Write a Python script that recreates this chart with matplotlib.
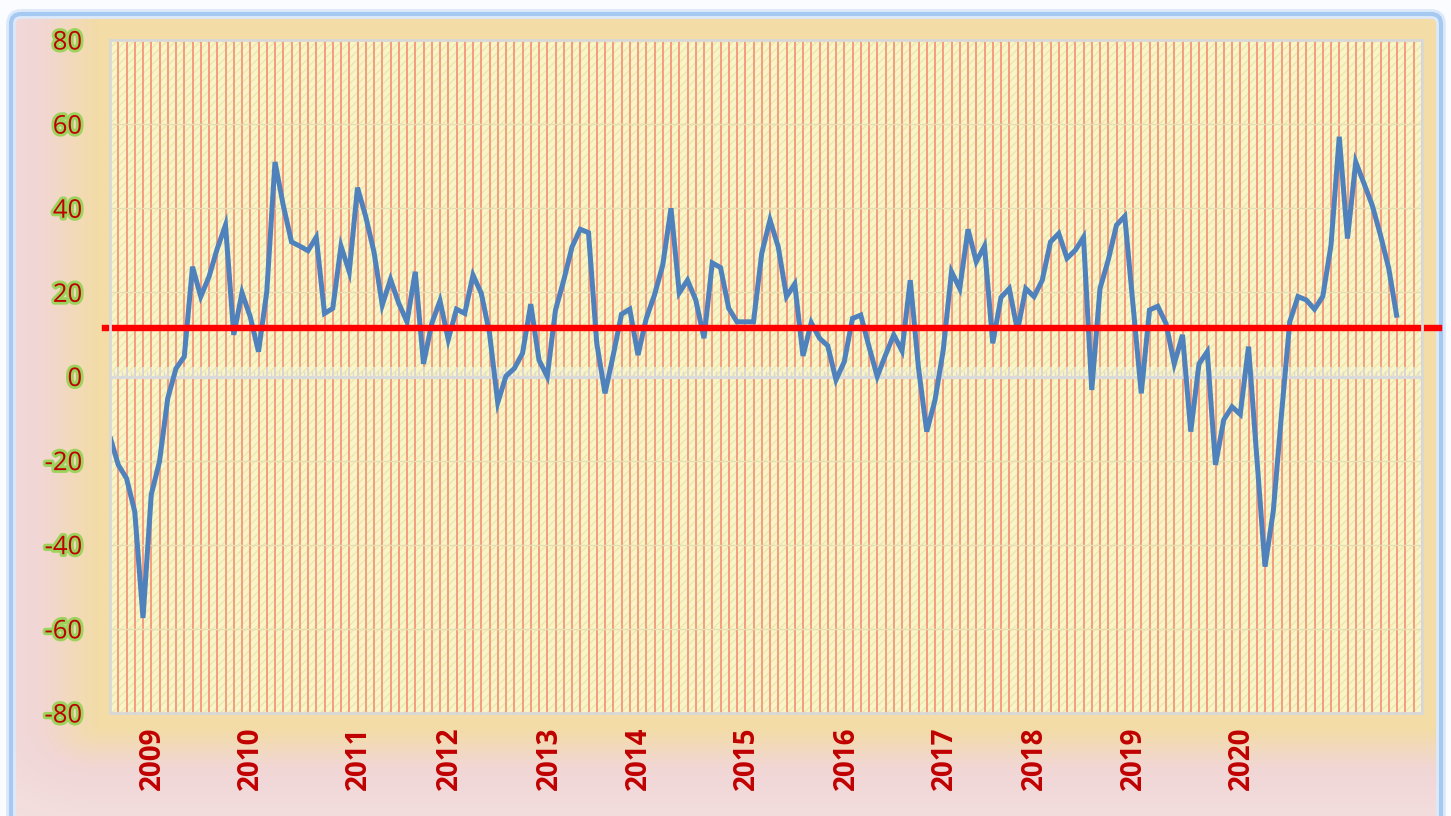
import numpy as np
import matplotlib
matplotlib.use("Agg")
import matplotlib.pyplot as plt
import matplotlib.patheffects as pe
from matplotlib.patches import Rectangle, FancyBboxPatch
from matplotlib.ticker import MultipleLocator

# ---------------- data ----------------
values = [
    -14.3, -21.0, -24.2, -32.1, -57.4, -28.1, -20.2, -5.2, 1.9, 4.7,
    26.1, 19.0, 23.7, 30.4, 36.0, 9.9, 19.9, 14.2, 5.9, 20.1,
    51.0, 40.7, 32.0, 31.0, 29.9, 33.1, 15.0, 16.2, 31.0, 24.9,
    44.9, 38.0, 29.6, 17.0, 23.1, 17.4, 13.0, 24.9, 3.0, 12.6,
    18.0, 8.8, 16.0, 15.0, 24.1, 19.8, 10.3, -6.2, 0.1, 1.9,
    5.5, 17.2, 3.9, 0.0, 15.8, 22.9, 30.8, 35.0, 34.2, 7.9,
    -4.0, 5.1, 14.8, 16.0, 5.1, 13.8, 19.4, 26.5, 40.0, 19.9,
    22.9, 18.2, 9.1, 27.0, 25.9, 16.2, 13.0, 13.0, 13.0, 29.3,
    37.2, 30.8, 19.0, 22.0, 4.9, 12.8, 9.1, 7.3, -0.8, 3.5,
    13.8, 14.6, 7.1, 0.0, 5.1, 9.9, 6.1, 22.9, 2.0, -13.1,
    -5.6, 6.3, 24.9, 20.9, 35.0, 27.3, 31.0, 7.9, 18.8, 20.9,
    10.9, 20.9, 19.0, 22.9, 32.0, 34.0, 28.1, 30.0, 33.1, -3.2,
    20.9, 27.7, 36.0, 38.1, 17.0, -4.0, 15.8, 16.7, 12.6, 3.0,
    9.9, -13.1, 3.0, 5.9, -21.0, -10.3, -7.2, -9.0, 7.1, -19.0,
    -45.2, -32.1, -9.0, 13.0, 19.0, 18.2, 16.0, 19.0, 31.2, 57.0,
    32.8, 51.0, 45.9, 40.7, 33.6, 25.7, 14.0,
]
n_categories = 160
average_value = 11.6
year_labels = ["2009", "2010", "2011", "2012", "2013", "2014",
               "2015", "2016", "2017", "2018", "2019", "2020"]
year_label_positions = [5.1, 17.0, 30.1, 41.1, 53.3, 64.1,
                        77.2, 89.3, 101.2, 112.1, 124.1, 137.1]
y_ticks = [-80, -60, -40, -20, 0, 20, 40, 60, 80]

# ---------------- figure ----------------
W, H = 1451, 816
matplotlib.rcParams["hatch.linewidth"] = 1.0
fig = plt.figure(figsize=(W / 100, H / 100), dpi=100)

# background gradient (tan near the plot area, pink further away)
bg = fig.add_axes([0, 0, 1, 1], zorder=-10)
bg.set_xlim(0, W)
bg.set_ylim(H, 0)
bg.axis("off")
yy, xx = np.mgrid[0:H, 0:W]
left_r, right_r, top_r, bot_r = 98, 1440, 0, 728
dx = (np.maximum(left_r - xx, 0) + np.maximum(xx - right_r, 0)) / 60.0
dy = (np.maximum(yy - bot_r, 0) + np.maximum(top_r - yy, 0)) / 40.0
d = np.hypot(dx, dy)
t = np.clip(d, 0, 1)[..., None]
t2 = np.clip((d - 1.0) / 3.0, 0, 1)[..., None]
tan = np.array([243, 220, 166]) / 255
pink = np.array([241, 214, 214]) / 255
light = np.array([247, 232, 232]) / 255
img = tan * (1 - t) + pink * t
img = img * (1 - t2) + light * t2
outside = (xx < 11) | (xx > 1441) | (yy < 14)
img[outside] = np.array([250, 252, 255]) / 255
bg.imshow(img, extent=(0, W, H, 0), aspect="auto", interpolation="bilinear")
bg.add_patch(FancyBboxPatch((11, 14), 1430, 830,
                            boxstyle="round,pad=0,rounding_size=10",
                            fc="none", ec="#DCE9FA", lw=7))
bg.add_patch(FancyBboxPatch((11, 14), 1430, 830,
                            boxstyle="round,pad=0,rounding_size=10",
                            fc="none", ec="#A6C9F2", lw=3))

# main plot area
ax = fig.add_axes([110 / W, 1 - 713 / H, (1421.75 - 110) / W, (713 - 40) / H])
ax.set_facecolor("#F8F5C8")
ax.add_patch(Rectangle((0, 0), 1, 1, transform=ax.transAxes, fc="none",
                       ec="#EEE6AE", lw=0, hatch="////", zorder=0))

x = np.arange(len(values))
ax.plot(x, values, color="#4F81BD", lw=3.6, solid_joinstyle="miter",
        solid_capstyle="butt", zorder=5)
ax.axhline(average_value, xmin=-0.004, xmax=1.013, color="#FF0000", lw=4.6,
           clip_on=False, zorder=6)

ax.set_xlim(0, n_categories - 1)
ax.set_ylim(-80, 80)

# gridlines
ax.xaxis.set_major_locator(MultipleLocator(1))
ax.xaxis.set_minor_locator(MultipleLocator(0.5))
ax.xaxis.grid(True, which="major", color="#F59C7E", lw=1.4, zorder=1)
ax.yaxis.grid(True, color="#E6DDB3", lw=1.0)
ax.set_axisbelow(True)

# spines: zero axis with tick marks, light grey plot border
for s in ["top", "right", "left"]:
    ax.spines[s].set_visible(False)
ax.spines["bottom"].set_position(("data", 0))
ax.spines["bottom"].set_color("#DADADA")
ax.spines["bottom"].set_linewidth(2.2)
ax.spines["bottom"].set_zorder(3)
ax.tick_params(axis="x", which="major", direction="in", length=7, width=1.3,
               color="#DADADA", labelbottom=False)
ax.tick_params(axis="x", which="minor", direction="in", length=4, width=1.0,
               color="#DADADA")
ax.add_patch(Rectangle((0, 0), 1, 1, transform=ax.transAxes, fc="none",
                       ec="#D8D8D8", lw=2, zorder=7, clip_on=False))

# y tick labels: red with green glow
ax.set_yticks(y_ticks)
ax.set_yticklabels([str(v) for v in y_ticks])
ax.tick_params(axis="y", length=0, pad=20)
for lbl in ax.get_yticklabels():
    lbl.set_fontfamily("Open Sans")
    lbl.set_fontsize(18.5)
    lbl.set_color("#C00000")
    lbl.set_path_effects([pe.withStroke(linewidth=4, foreground="#9BD35C")])

# year labels at the bottom
sec = ax.secondary_xaxis(0.0)
sec.set_xticks(year_label_positions)
sec.set_xticklabels(year_labels, rotation=90, fontfamily="Open Sans",
                    fontweight="bold", fontsize=20, color="#C00000",
                    va="top", ha="center")
sec.tick_params(length=0, pad=10)
sec.spines["bottom"].set_visible(False)

fig.savefig("out.png", dpi=100)
